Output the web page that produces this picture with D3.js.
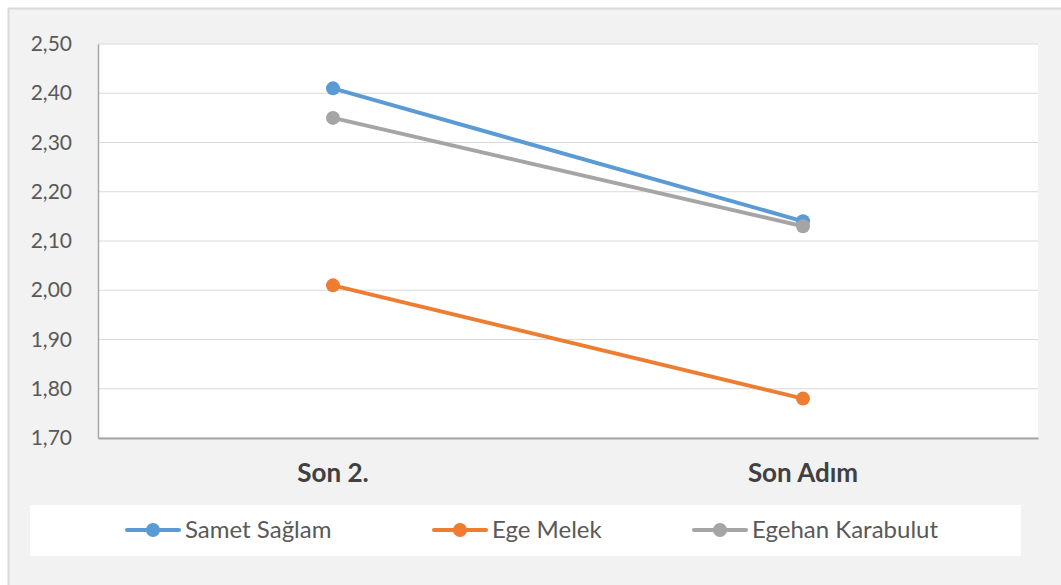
<!DOCTYPE html>
<html>
<head>
<meta charset="utf-8">
<script src="https://cdn.jsdelivr.net/npm/d3@7"></script>
<style>
  body { margin: 0; background: #ffffff; }
  text { font-family: Lato, "Open Sans", sans-serif; }
</style>
</head>
<body>
<div id="chart"></div>
<script>
// data
var categories = ["Son 2.", "Son Adım"];
var seriesNames = ["Samet Sağlam", "Ege Melek", "Egehan Karabulut"];
var sametValues = [2.41, 2.14];
var egeValues = [2.01, 1.78];
var egehanValues = [2.35, 2.13];
var yTicks = [1.7, 1.8, 1.9, 2.0, 2.1, 2.2, 2.3, 2.4, 2.5];
var colors = ["#5b9bd5", "#ed7d31", "#a5a5a5"];

var series = [
    { name: seriesNames[0], values: sametValues, color: colors[0] },
    { name: seriesNames[1], values: egeValues, color: colors[1] },
    { name: seriesNames[2], values: egehanValues, color: colors[2] }
];

var svgWidth = 1061;
var svgHeight = 585;

var margin = { top: 44, right: 23, bottom: 147, left: 98 };
var width = svgWidth - margin.left - margin.right;
var height = svgHeight - margin.top - margin.bottom;

var svg = d3.select('#chart')
    .append('svg')
    .attr('width', svgWidth)
    .attr('height', svgHeight);

// outer chart background
svg.append('rect')
    .attr('x', 8.5).attr('y', 8.5)
    .attr('width', svgWidth).attr('height', svgHeight)
    .attr('fill', '#f2f2f2')
    .attr('stroke', '#d9d9d9')
    .attr('stroke-width', 2);

var chartGroup = svg.append('g')
    .attr('transform', `translate(${margin.left}, ${margin.top})`);

chartGroup.append('rect')
    .attr('width', width).attr('height', height)
    .attr('fill', '#ffffff');

// scales
var x = d3.scaleBand()
    .domain(categories)
    .range([0, width]);

var y = d3.scaleLinear()
    .domain([1.7, 2.5])
    .range([height, 0]);

// gridlines
chartGroup.append('g')
    .selectAll('line')
    .data(yTicks)
    .enter()
    .append('line')
    .attr('x1', 0).attr('x2', width)
    .attr('y1', d => y(d)).attr('y2', d => y(d))
    .attr('stroke', '#d9d9d9')
    .attr('stroke-width', 1);

// y axis
var yAxis = chartGroup.append('g')
    .call(d3.axisLeft(y).tickValues(yTicks).tickSize(0).tickPadding(26)
        .tickFormat(d => d3.format('.2f')(d).replace('.', ',')));
yAxis.select('.domain').attr('stroke', '#a6a6a6').attr('stroke-width', 1.5);
yAxis.selectAll('text').attr('fill', '#595959').style('font-size', '21px');

// x axis
var xAxis = chartGroup.append('g')
    .attr('transform', `translate(0, ${height})`)
    .call(d3.axisBottom(x).tickSize(0).tickPadding(26));
xAxis.select('.domain').attr('stroke', '#a6a6a6').attr('stroke-width', 2);
xAxis.selectAll('text').attr('fill', '#404040').style('font-size', '26px').style('font-weight', 'bold');

// lines
var line = d3.line()
    .x((d, i) => x(categories[i]) + x.bandwidth() / 2)
    .y(d => y(d));

var seriesGroup = chartGroup.append('g')
    .selectAll('g')
    .data(series)
    .enter()
    .append('g');

seriesGroup.append('path')
    .attr('d', d => line(d.values))
    .attr('fill', 'none')
    .attr('stroke', d => d.color)
    .attr('stroke-width', 4)
    .attr('stroke-linecap', 'round');

seriesGroup.selectAll('circle')
    .data(d => d.values.map((v, i) => ({ v: v, i: i, color: d.color })))
    .enter()
    .append('circle')
    .attr('cx', d => x(categories[d.i]) + x.bandwidth() / 2)
    .attr('cy', d => y(d.v))
    .attr('r', 7)
    .attr('fill', d => d.color);

// legend
svg.append('rect')
    .attr('x', 30).attr('y', 505)
    .attr('width', 991).attr('height', 51)
    .attr('fill', '#ffffff');

var legendX = [125, 432, 692];
var legend = svg.append('g')
    .selectAll('g')
    .data(series)
    .enter()
    .append('g')
    .attr('transform', (d, i) => `translate(${legendX[i]}, 530)`);

legend.append('line')
    .attr('x1', 2).attr('x2', 54)
    .attr('stroke', d => d.color)
    .attr('stroke-width', 4)
    .attr('stroke-linecap', 'round');
legend.append('circle')
    .attr('cx', 28).attr('r', 7)
    .attr('fill', d => d.color);
legend.append('text')
    .attr('x', 60).attr('dy', '0.35em')
    .text(d => d.name)
    .attr('fill', '#595959')
    .style('font-size', '24px');
</script>
</body>
</html>
